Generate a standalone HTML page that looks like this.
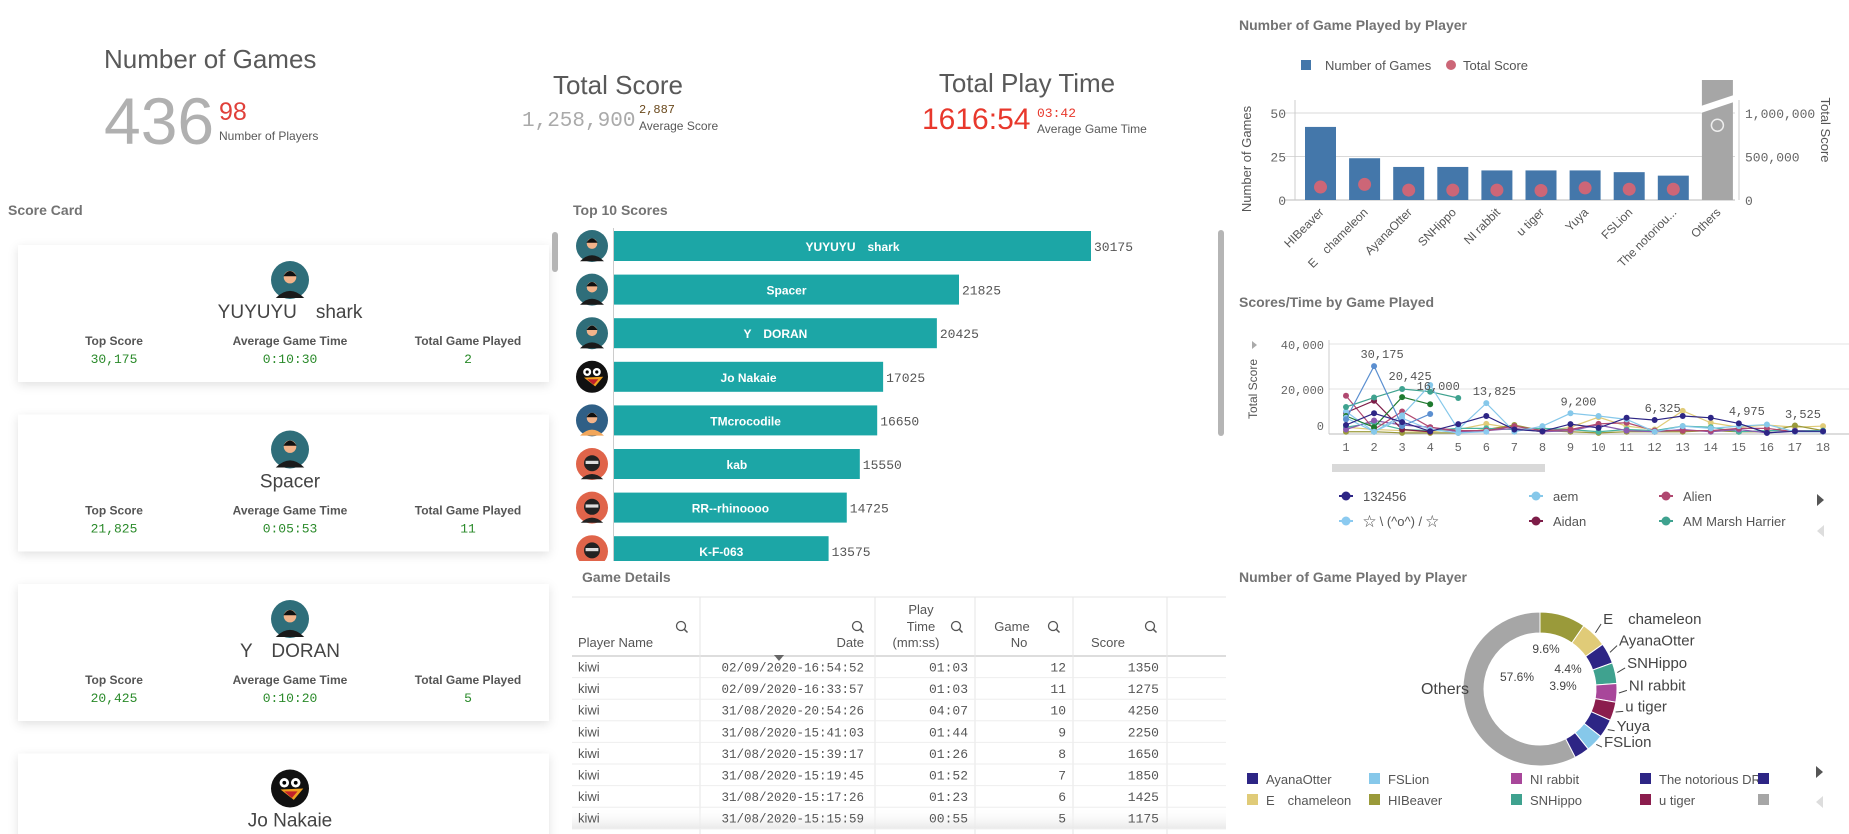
<!DOCTYPE html>
<html><head><meta charset="utf-8"><title>Game Dashboard</title>
<style>
html,body{margin:0;padding:0;background:#fff;width:1849px;height:834px;overflow:hidden}
svg{display:block;font-family:"Liberation Sans","Noto Sans CJK JP",sans-serif}
.mono{font-family:"Liberation Mono","Noto Sans CJK JP",monospace}
</style></head>
<body>
<svg id="root" width="1849" height="834" viewBox="0 0 1849 834" xmlns="http://www.w3.org/2000/svg">
<defs>
<filter id="sh" x="-5%" y="-10%" width="110%" height="130%"><feDropShadow dx="0" dy="3" stdDeviation="5" flood-color="#000" flood-opacity="0.12"/></filter>
<clipPath id="topclip"><rect x="570" y="225" width="660" height="336"/></clipPath>
<clipPath id="cardclip"><rect x="0" y="225" width="570" height="609"/></clipPath>
<clipPath id="lineclip"><rect x="1329" y="330" width="520" height="110"/></clipPath>
<linearGradient id="fade" x1="0" y1="0" x2="0" y2="1"><stop offset="0" stop-color="#fff" stop-opacity="0"/><stop offset="1" stop-color="#e8e8e8"/></linearGradient>
</defs>

<g>
<text x="104" y="68" font-size="26" fill="#595959">Number of Games</text>
<text x="104" y="144" font-size="66" fill="#b0b0b0">436</text>
<text x="219" y="120" font-size="25" fill="#e0403a">98</text>
<text x="219" y="140" font-size="12" fill="#595959">Number of Players</text>
</g>
<g>
<text x="618" y="94" font-size="26" fill="#595959" text-anchor="middle">Total Score</text>
<text x="522" y="126" font-size="21" fill="#aaa" class="mono">1,258,900</text>
<text x="639" y="113" font-size="12" fill="#6b4a1e" class="mono">2,887</text>
<text x="639" y="130" font-size="12" fill="#595959">Average Score</text>
</g>
<g>
<text x="1027" y="92" font-size="26" fill="#595959" text-anchor="middle">Total Play Time</text>
<text x="922" y="129" font-size="30" fill="#e8382c">1616:54</text>
<text x="1037" y="117" font-size="13" fill="#e8382c" class="mono">03:42</text>
<text x="1037" y="133" font-size="12" fill="#595959">Average Game Time</text>
</g>

<text x="8" y="215" font-size="14" font-weight="bold" fill="#737373">Score Card</text>
<text x="573" y="215" font-size="14" font-weight="bold" fill="#737373">Top 10 Scores</text>
<text x="582" y="582" font-size="14" font-weight="bold" fill="#737373">Game Details</text>
<text x="1239" y="30" font-size="14" font-weight="bold" fill="#737373">Number of Game Played by Player</text>
<text x="1239" y="307" font-size="14" font-weight="bold" fill="#737373">Scores/Time by Game Played</text>
<text x="1239" y="582" font-size="14" font-weight="bold" fill="#737373">Number of Game Played by Player</text>

<g id="cards" clip-path="url(#cardclip)"></g>
<rect x="552" y="232" width="6" height="40" rx="3" fill="#b5b5b5"/>

<g id="top10"></g>
<rect x="1218" y="230" width="6" height="206" rx="3" fill="#b5b5b5"/>

<g id="table"></g>

<g id="barchart"></g>
<g id="linechart"></g>
<g id="piechart"></g>
</svg>

<script>
const NS="http://www.w3.org/2000/svg";
function mk(tag,attrs,parent,txt){const e=document.createElementNS(NS,tag);for(const k in attrs)e.setAttribute(k,attrs[k]);if(txt!==undefined)e.textContent=txt;(parent||document.getElementById('root')).appendChild(e);return e;}

function avatar(cx,cy,r,type,parent){
  const g=mk('g',{},parent);
  
  
  const bg={man:'#2f6e7a',woman:'#2f5f86',ninja:'#e0644a',penguin:'#111'}[type];
  mk('circle',{cx:cx,cy:cy,r:r,fill:bg},g);
  if(type==='man'||type==='woman'){
    mk('path',{d:`M${cx-r*0.75} ${cy+r*0.95} Q${cx} ${cy+r*0.2} ${cx+r*0.75} ${cy+r*0.95} Z`,fill:type==='man'?'#1a1a1a':'#f2a65a'},g);
    mk('circle',{cx:cx,cy:cy-r*0.15,r:r*0.33,fill:'#f2b38a'},g);
    mk('path',{d:`M${cx-r*0.35} ${cy-r*0.2} Q${cx} ${cy-r*0.75} ${cx+r*0.35} ${cy-r*0.2} Z`,fill:'#111'},g);
  } else if(type==='ninja'){
    mk('circle',{cx:cx,cy:cy-r*0.05,r:r*0.5,fill:'#222'},g);
    mk('rect',{x:cx-r*0.4,y:cy-r*0.2,width:r*0.8,height:r*0.2,fill:'#ddd'},g);
    mk('path',{d:`M${cx-r*0.7} ${cy+r*0.95} Q${cx} ${cy+r*0.3} ${cx+r*0.7} ${cy+r*0.95} Z`,fill:'#222'},g);
  } else {
    mk('circle',{cx:cx-r*0.3,cy:cy-r*0.3,r:r*0.25,fill:'#fff'},g);
    mk('circle',{cx:cx+r*0.3,cy:cy-r*0.3,r:r*0.25,fill:'#fff'},g);
    mk('circle',{cx:cx-r*0.3,cy:cy-r*0.3,r:r*0.1,fill:'#000'},g);
    mk('circle',{cx:cx+r*0.3,cy:cy-r*0.3,r:r*0.1,fill:'#000'},g);
    mk('path',{d:`M${cx-r*0.5} ${cy+r*0.05} L${cx+r*0.7} ${cy} L${cx+r*0.2} ${cy+r*0.6} Z`,fill:'#f0a020'},g);
    mk('path',{d:`M${cx-r*0.3} ${cy+r*0.15} L${cx+r*0.4} ${cy+r*0.15} L${cx+r*0.1} ${cy+r*0.5} Z`,fill:'#c0202a'},g);
  }
  return g;
}

const cardNames=["YUYUYU\u3000shark","Spacer","Y\u3000DORAN","Jo Nakaie"];
const cardTop=["30,175","21,825","20,425","17,025"];
const cardAvg=["0:10:30","0:05:53","0:10:20","0:06:11"];
const cardPlayed=["2","11","5","9"];
const cardAvatars=["man","man","man","penguin"];
(function(){
  const cg=document.getElementById('cards');
  for(let i=0;i<cardNames.length;i++){
    const top=245+i*169.5;
    const g=mk('g',{},cg);
    
    
    mk('rect',{x:18,y:top,width:531,height:137,fill:'#fff',filter:'url(#sh)'},g);
    avatar(290,top+35,19,cardAvatars[i],g);
    const n=mk('text',{x:290,y:top+73,'font-size':19,fill:'#444','text-anchor':'middle'},g,cardNames[i]);
    
    
    const labels=["Top Score","Average Game Time","Total Game Played"];
    const vals=[cardTop[i],cardAvg[i],cardPlayed[i]];
    const xs=[114,290,468];
    for(let j=0;j<3;j++){
      const l=mk('text',{x:xs[j],y:top+100,'font-size':12,'font-weight':'bold',fill:'#555','text-anchor':'middle'},g,labels[j]);
      
      
      const v=mk('text',{x:xs[j],y:top+118,'font-size':13,fill:'#2a8a2a','text-anchor':'middle',class:'mono'},g,vals[j]);
      
      
    }
  }
})();

const topNames=["YUYUYU\u3000shark","Spacer","Y\u3000DORAN","Jo Nakaie","TMcrocodile","kab","RR--rhinoooo","K-F-063"];
const topScores=[30175,21825,20425,17025,16650,15550,14725,13575];
const topAvatars=["man","man","man","penguin","woman","ninja","ninja","ninja"];
(function(){
  const g=mk('g',{'clip-path':'url(#topclip)'},document.getElementById('top10'));
  const x0=614, k=477/30175, y0=231, pitch=43.6, h=30;
  const xs=v=>x0+v*k;
  mk('line',{x1:x0-0.5,y1:228,x2:x0-0.5,y2:570,stroke:'#ccc'},g);
  topScores.forEach((v,i)=>{
    const y=y0+i*pitch;
    avatar(592,y+h/2,16,topAvatars[i],g);
    const b=mk('rect',{x:x0,y:y,width:xs(v)-x0,height:h,fill:'#1ca6a6'},g);
    
    
    const t=mk('text',{x:(x0+xs(v))/2,y:y+h/2+5,'font-size':12,'font-weight':'bold',fill:'#fff','text-anchor':'middle'},g,topNames[i]);
    
    
    const vl=mk('text',{x:xs(v)+3,y:y+h/2+5,'font-size':13,fill:'#555',class:'mono'},g,String(v));
    
    
  });
})();

const tDates=["02/09/2020-16:54:52","02/09/2020-16:33:57","31/08/2020-20:54:26","31/08/2020-15:41:03","31/08/2020-15:39:17","31/08/2020-15:19:45","31/08/2020-15:17:26","31/08/2020-15:15:59"];
const tTimes=["01:03","01:03","04:07","01:44","01:26","01:52","01:23","00:55"];
const tGameNo=[12,11,10,9,8,7,6,5];
const tScore=[1350,1275,4250,2250,1650,1850,1425,1175];
(function(){
  const g=document.getElementById('table');
  const cols=[572,700,875,975,1073,1167,1226];
  mk('line',{x1:572,y1:597,x2:1226,y2:597,stroke:'#e6e6e6'},g);
  mk('line',{x1:572,y1:656,x2:1226,y2:656,stroke:'#bbb'},g);
  for(let i=1;i<cols.length-1;i++) mk('line',{x1:cols[i],y1:597,x2:cols[i],y2:834,stroke:'#e6e6e6'},g);
  const hdr=(x,y,t,anc)=>{const e=mk('text',{x:x,y:y,'font-size':13,fill:'#555','text-anchor':anc},g,t);};
  hdr(578,647,'Player Name','start');
  hdr(864,647,'Date','end');
  hdr(921,614,'Play','middle');hdr(921,631,'Time','middle');hdr(916,647,'(mm:ss)','middle');
  hdr(1012,631,'Game','middle');hdr(1019,647,'No','middle');
  hdr(1108,647,'Score','middle');
  [681,857,956,1053,1150].forEach(x=>{
    const s=mk('g',{},g);
    
    
    mk('circle',{cx:x,cy:626,r:4.5,fill:'none',stroke:'#555','stroke-width':1.3},s);
    mk('line',{x1:x+3.2,y1:629.2,x2:x+6.5,y2:632.5,stroke:'#555','stroke-width':1.5},s);
  });
  mk('path',{d:'M774 655 L784 655 L779 661 Z',fill:'#666'},g);
  tDates.forEach((d,i)=>{
    const y=656+i*21.6;
    if(i===tDates.length-1) mk('rect',{x:572,y:y,width:654,height:22,fill:'url(#fade)'},g);
    mk('line',{x1:572,y1:y+21.6,x2:1226,y2:y+21.6,stroke:'#eee'},g);
    const ty=y+15.5;
    const r=mk('g',{},g);
    
    
    mk('text',{x:578,y:ty,'font-size':13,fill:'#555'},r,'kiwi');
    mk('text',{x:864,y:ty,'font-size':12.5,fill:'#555','text-anchor':'end',class:'mono'},r,d);
    mk('text',{x:968,y:ty,'font-size':13,fill:'#555','text-anchor':'end',class:'mono'},r,tTimes[i]);
    mk('text',{x:1066,y:ty,'font-size':13,fill:'#555','text-anchor':'end',class:'mono'},r,String(tGameNo[i]));
    mk('text',{x:1159,y:ty,'font-size':13,fill:'#555','text-anchor':'end',class:'mono'},r,String(tScore[i]));
  });
})();

const barPlayers=["HIBeaver","E\u3000chameleon","AyanaOtter","SNHippo","NI rabbit","u tiger","Yuya","FSLion","The notoriou...","Others"];
const barGames=[42,24,19,19,17,17,17,16,14,251];
const barTotalScore=[80000,110000,45000,45000,45000,40000,70000,55000,55000,790000];
const barLeftTicks=[0,25,50];
const barRightTicks=[0,500000,1000000];
const barRightTickLabels=["0","500,000","1,000,000"];
(function(){
  const g=document.getElementById('barchart');
  const yL=v=>200-v*87/50, yR=v=>200-v*87/1000000, xC=i=>1320.5+i*44.1;
  const leg1=mk('g',{},g);
  mk('rect',{x:1301,y:60,width:10,height:10,fill:'#4477aa'},leg1);
  mk('text',{x:1325,y:70,'font-size':13,fill:'#555'},leg1,'Number of Games');
  const leg2=mk('g',{},g);
  mk('circle',{cx:1451,cy:65,r:5,fill:'#cc6677'},leg2);
  mk('text',{x:1463,y:70,'font-size':13,fill:'#555'},leg2,'Total Score');
  barLeftTicks.forEach(t=>{
    mk('line',{x1:1285,y1:yL(t),x2:1735,y2:yL(t),stroke:t===0?'#bbb':'#d9d9d9'},g);
    const l=mk('text',{x:1286,y:yL(t)+5,'font-size':13,fill:'#666','text-anchor':'end',class:'mono'},g,String(t));
    
  });
  mk('line',{x1:1295,y1:100,x2:1295,y2:200,stroke:'#ccc'},g);
  mk('line',{x1:1739,y1:100,x2:1739,y2:200,stroke:'#ccc'},g);
  barRightTicks.forEach((t,i)=>{
    const l=mk('text',{x:1745,y:yR(t)+5,'font-size':13,fill:'#666',class:'mono'},g,barRightTickLabels[i]);
    
  });
  const yt=mk('text',{x:0,y:0,'font-size':13,fill:'#555','text-anchor':'middle',transform:'translate(1251,159) rotate(-90)'},g,'Number of Games');
  
  const yt2=mk('text',{x:0,y:0,'font-size':13,fill:'#555','text-anchor':'middle',transform:'translate(1821,130) rotate(90)'},g,'Total Score');
  
  barGames.forEach((v,i)=>{
    const cx=xC(i), w=31;
    const cap=Math.max(yL(v),80);
    const b=mk('rect',{x:cx-w/2,y:cap,width:w,height:200-cap,fill:barPlayers[i]==='Others'?'#a6a6a6':'#4477aa'},g);
    
    if(yL(v)<80){
      mk('polygon',{points:`${cx-w/2-1},${cap+26} ${cx+w/2+1},${cap+15} ${cx+w/2+1},${cap+22} ${cx-w/2-1},${cap+33}`,fill:'#fff'},g);
    }
    const sc=barTotalScore[i];
    const d=mk('circle',{cx:cx,cy:Math.max(yR(sc)-6,100),r:barPlayers[i]==='Others'?6:6.5,fill:barPlayers[i]==='Others'?'none':'#cc6677',stroke:barPlayers[i]==='Others'?'#eee':'none','stroke-width':1.5},g);
    
    const xl=mk('text',{x:0,y:0,'font-size':12,fill:'#555','text-anchor':'end',transform:`translate(${cx+4},${213}) rotate(-45)`},g,barPlayers[i]);
    
  });
})();

const lineGames=[1,2,3,4,5,6,7,8,9,10,11,12,13,14,15,16,17,18];
const lineYTicks=[0,20000,40000];
const lineYTickLabels=["0","20,000","40,000"];
const sNavy=[4000,9200,5300,1200,4400,8000,2000,1200,4400,2700,7200,6200,8000,7200,4700,500,1200,1200];
const sBlue=[6500,30175,3500,8900];
const sAem=[7200,1000,8300,21800,2000,13700,1000,3500,9200,8000,6500,1000,3500,2500,3500,4200,1000,1000];
const sMarsh=[12000,16200,20000,18800,16000];
const sGreen=[8000,3000,16400,13200];
const sAidan=[9500,14800,2000,1000];
const sAlien=[17000,2000,10000,3000,1500,1500,3500,1500,2000,4500,5000,1500,1500,1500,2500,2500,1000,1000];
const sYellow=[3000,2000,1500,1000,2000,4500,2500,1000,3000,7500,3500,2000,10300,5000,3000,4000,3000,3525];
const sOlive=[1000,1000,500,500,500,2000,4000,1500,1000,500,1000,1000,1000,1500,1000,1000,3760,1500];
const sTeal=[3000,5000,2000,1500,2500,2500,2000,2500,2000,1000,2000,1500,3500,3000,1000,1500,1500,1500];
const sStar=[10000,1000,7000,2000,500,1000];
const sPurple=[2000,6000,4000,3000,1000,1500,2500,1000,1500,4000,1500,1000,2000,1000,2000,500,1500,1000];
const peakGames=[2,3,4,6,9,12,15,17];
const peakValues=[30175,20425,16000,13825,9200,6325,4975,3525];
const peakLabels=["30,175","20,425","16,000","13,825","9,200","6,325","4,975","3,525"];
(function(){
  const g=document.getElementById('linechart');
  const x=gm=>1346+(gm-1)*28.06, y=v=>434-v*45/20000;
  mk('line',{x1:1329,y1:344,x2:1849,y2:344,stroke:'#e3e3e3'},g);
  mk('line',{x1:1329,y1:389,x2:1849,y2:389,stroke:'#e3e3e3'},g);
  mk('line',{x1:1329,y1:434,x2:1849,y2:434,stroke:'#bbb'},g);
  mk('line',{x1:1329,y1:340,x2:1329,y2:434,stroke:'#ccc'},g);
  lineYTicks.forEach((t,i)=>{
    const l=mk('text',{x:1324,y:t===0?y(t)-4:y(t)+5,'font-size':12,fill:'#666','text-anchor':'end',class:'mono'},g,lineYTickLabels[i]);
    
  });
  mk('path',{d:'M1252 341 L1257 345 L1252 349 Z',fill:'#aaa'},g);
  const yt=mk('text',{x:0,y:0,'font-size':12,fill:'#555','text-anchor':'middle',transform:'translate(1257,389) rotate(-90)'},g,'Total Score');
  
  lineGames.forEach(gm=>{
    const l=mk('text',{x:x(gm),y:451,'font-size':12,fill:'#666','text-anchor':'middle',class:'mono'},g,String(gm));
    
  });
  const series=[[sYellow,'#e0cb78'],[sOlive,'#9a9a3a'],[sTeal,'#49b3a0'],[sPurple,'#8a5ab0'],[sAlien,'#b04870'],[sAidan,'#7d1d48'],[sStar,'#8bcaf0'],[sGreen,'#1f7a2e'],[sMarsh,'#3fa28f'],[sAem,'#86c8ea'],[sBlue,'#5b8fd0'],[sNavy,'#2d2585']];
  const cg=mk('g',{'clip-path':'url(#lineclip)'},g);
  series.forEach(([vals,col])=>{
    const sg=mk('g',{},cg);
    
    
    const pts=vals.map((v,i)=>x(lineGames[i])+','+y(v)).join(' ');
    mk('polyline',{points:pts,fill:'none',stroke:col,'stroke-width':1.2},sg);
    vals.forEach((v,i)=>{
      const p=mk('circle',{cx:x(lineGames[i]),cy:y(v),r:3,fill:col},sg);
      
      
    });
  });
  peakGames.forEach((gm,i)=>{
    const l=mk('text',{x:x(gm)+8,y:y(peakValues[i])-8,'font-size':12,fill:'#555','text-anchor':'middle',class:'mono'},g,peakLabels[i]);
    
  });
  const sb=mk('rect',{x:1332,y:464,width:213,height:8,fill:'#d9d9d9'},g);
  
  const legNames=["132456","aem","Alien","\u2606 \\ (^o^) / \u2606","Aidan","AM Marsh Harrier"];
  const legCols=['#2d2585','#86c8ea','#b04870','#8bcaf0','#7d1d48','#3fa28f'];
  legNames.forEach((n,i)=>{
    const lx=[1346,1536,1666][i%3], ly=i<3?496:521;
    const lg=mk('g',{},g);
    
    
    mk('line',{x1:lx-7,y1:ly,x2:lx+7,y2:ly,stroke:legCols[i],'stroke-width':2},lg);
    mk('circle',{cx:lx,cy:ly,r:4.5,fill:legCols[i]},lg);
    mk('text',{x:lx+17,y:ly+5,'font-size':13,fill:'#555'},lg,n);
  });
  const a1=mk('path',{d:'M1817 494 L1824 500 L1817 506 Z',fill:'#555'},g);
  
  const a2=mk('path',{d:'M1824 525 L1817 531 L1824 537 Z',fill:'#ddd'},g);
  
})();

const pieLabels=["HIBeaver","E\u3000chameleon","AyanaOtter","SNHippo","NI rabbit","u tiger","Yuya","FSLion","The notorious DRB","Others"];
const pieValues=[42,24,19,19,17,17,17,16,14,251];
const pieColors=['#9a9a3a','#e0cb78','#2d2585','#3fa28f','#a8479a','#8b1d4d','#2d2585','#86c8ea','#2d2585','#a6a6a6'];
(function(){
  const g=document.getElementById('piechart');
  const cx=1540, cy=689, R=77, r=56;
  const total=pieValues.reduce((a,b)=>a+b,0);
  let acc=0;
  const pt=(a,rad)=>[cx+rad*Math.sin(a),cy-rad*Math.cos(a)];
  pieValues.forEach((v,i)=>{
    const a0=acc/total*2*Math.PI; acc+=v; const a1=acc/total*2*Math.PI;
    const lg=(a1-a0)>Math.PI?1:0;
    const p1=pt(a0,R),p2=pt(a1,R),p3=pt(a1,r),p4=pt(a0,r);
    const s=mk('path',{d:`M${p1} A${R} ${R} 0 ${lg} 1 ${p2} L${p3} A${r} ${r} 0 ${lg} 0 ${p4} Z`,fill:pieColors[i],stroke:'#fff','stroke-width':1},g);
    
    
    const am=(a0+a1)/2;
    if(i>=1&&i<=7){
      const q1=pt(am,R+2),q2=pt(am,R+10);
      mk('line',{x1:q1[0],y1:q1[1],x2:q2[0],y2:q2[1]-3,stroke:'#444','stroke-width':1},g);
      const l=mk('text',{x:q2[0]+2,y:q2[1]-3,'font-size':15,fill:'#444'},g,pieLabels[i]);
      
    }
    if(i===9){
      const l=mk('text',{x:1469,y:694,'font-size':16,fill:'#444','text-anchor':'end'},g,pieLabels[i]);
      
    }
  });
  const pct=i=>(pieValues[i]/total*100).toFixed(1)+'%';
  [[0,1546,653],[2,1568,673],[4,1563,690],[9,1517,681]].forEach(([i,x,y])=>{
    const l=mk('text',{x:x,y:y,'font-size':12,fill:'#444','text-anchor':'middle'},g,pct(i));
    
  });
  const order=[2,1,7,0,4,3,8,5,6,9];
  const lx=[1252,1374,1516,1645,1763];
  order.forEach((idx,k)=>{
    const col=Math.floor(k/2), row=k%2;
    const x=lx[col], y=row?800:779;
    const e=mk('g',{},g);
    
    
    mk('rect',{x:x-5,y:y-6,width:11,height:11,fill:pieColors[idx]},e);
    if(col<4) mk('text',{x:x+14,y:y+5,'font-size':13,fill:'#555'},e,pieLabels[idx]);
  });
  mk('rect',{x:1775,y:765,width:40,height:45,fill:'#fff'},g);
  const a1=mk('path',{d:'M1816 766 L1823 772 L1816 778 Z',fill:'#555'},g);
  
  const a2=mk('path',{d:'M1823 796 L1816 802 L1823 808 Z',fill:'#ddd'},g);
  
})();
</script>
</body></html>
